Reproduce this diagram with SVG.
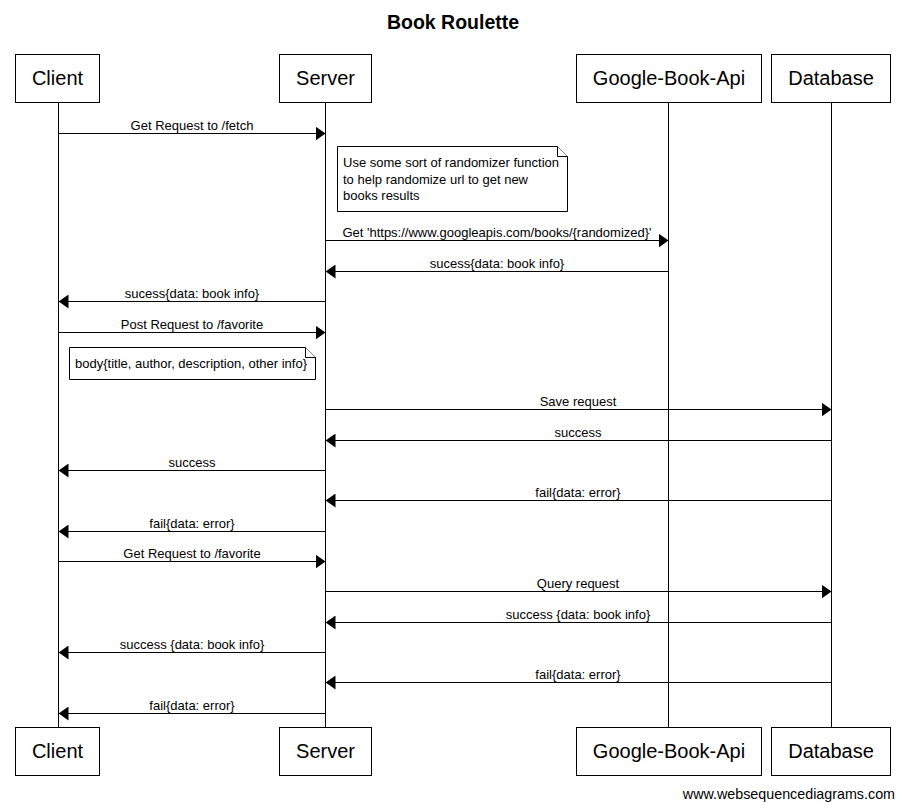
<svg xmlns="http://www.w3.org/2000/svg" width="905" height="809" viewBox="0 0 905 809">
<defs>
<marker id="ah" markerWidth="10" markerHeight="14" refX="10" refY="7" orient="auto" markerUnits="userSpaceOnUse">
<path d="M0,0 L10,7 L0,14 Z" fill="#000"/>
</marker>
<style>
.box{fill:#fff;stroke:#000;stroke-width:1}
.pt{font-family:"Liberation Sans",Arial,sans-serif;font-size:20px;text-anchor:middle;fill:#000}
.life{stroke:#000;stroke-width:1;fill:none}
.msg{stroke:#000;stroke-width:1;fill:none;marker-end:url(#ah)}
.ml{font-family:"Liberation Sans",Arial,sans-serif;font-size:13px;text-anchor:middle;fill:#000}
.nt{font-family:"Liberation Sans",Arial,sans-serif;font-size:13px;fill:#000}
.note{fill:#fff;stroke:#000;stroke-width:1}
</style>
</defs>
<rect width="905" height="809" fill="#fff"/>
<text x="453" y="29" font-family="Liberation Sans, Arial, sans-serif" font-size="19.5" font-weight="bold" text-anchor="middle">Book Roulette</text>

<g id="lifelines">
<line class="life" x1="58.5" y1="102" x2="58.5" y2="727"/>
<line class="life" x1="325.5" y1="102" x2="325.5" y2="727"/>
<line class="life" x1="668.5" y1="102" x2="668.5" y2="727"/>
<line class="life" x1="831.5" y1="102" x2="831.5" y2="727"/>
</g>

<g id="client">
<rect class="box" x="15.5" y="54.5" width="84" height="48"/>
<text class="pt" x="57.5" y="85">Client</text>
<rect class="box" x="15.5" y="727.5" width="84" height="48"/>
<text class="pt" x="57.5" y="758">Client</text>
</g>
<g id="server">
<rect class="box" x="279.5" y="54.5" width="92" height="48"/>
<text class="pt" x="325.5" y="85">Server</text>
<rect class="box" x="279.5" y="727.5" width="92" height="48"/>
<text class="pt" x="325.5" y="758">Server</text>
</g>
<g id="google">
<rect class="box" x="576.5" y="54.5" width="185" height="48"/>
<text class="pt" x="669" y="85">Google-Book-Api</text>
<rect class="box" x="576.5" y="727.5" width="185" height="48"/>
<text class="pt" x="669" y="758">Google-Book-Api</text>
</g>
<g id="database">
<rect class="box" x="771.5" y="54.5" width="119" height="48"/>
<text class="pt" x="831" y="85">Database</text>
<rect class="box" x="771.5" y="727.5" width="119" height="48"/>
<text class="pt" x="831" y="758">Database</text>
</g>

<g id="note1">
<path class="note" d="M337.5,146.5 H557.5 L567.5,156.5 V211.5 H337.5 Z"/>
<path class="note" d="M557.5,146.5 V156.5 H567.5" fill="none"/>
<text class="nt" x="343" y="167">Use some sort of randomizer function</text>
<text class="nt" x="343" y="184">to help randomize url to get new</text>
<text class="nt" x="343" y="200">books results</text>
</g>
<g id="note2">
<path class="note" d="M69.5,347.5 H305.5 L315.5,357.5 V379.5 H69.5 Z"/>
<path class="note" d="M305.5,347.5 V357.5 H315.5" fill="none"/>
<text class="nt" x="75" y="368">body{title, author, description, other info}</text>
</g>

<g id="connectors">
<line class="msg" x1="58.5" y1="133.5" x2="325.5" y2="133.5"/>
<text class="ml" x="192" y="130">Get Request to /fetch</text>

<line class="msg" x1="325.5" y1="240.5" x2="668.5" y2="240.5"/>
<text class="ml" x="497" y="237">Get 'https://www.googleapis.com/books/{randomized}'</text>

<line class="msg" x1="668.5" y1="271.5" x2="325.5" y2="271.5"/>
<text class="ml" x="497" y="268">sucess{data: book info}</text>

<line class="msg" x1="325.5" y1="301.5" x2="58.5" y2="301.5"/>
<text class="ml" x="192" y="298">sucess{data: book info}</text>

<line class="msg" x1="58.5" y1="332.5" x2="325.5" y2="332.5"/>
<text class="ml" x="192" y="329">Post Request to /favorite</text>

<line class="msg" x1="325.5" y1="409.5" x2="831.5" y2="409.5"/>
<text class="ml" x="578" y="406">Save request</text>

<line class="msg" x1="831.5" y1="440.5" x2="325.5" y2="440.5"/>
<text class="ml" x="578" y="437">success</text>

<line class="msg" x1="325.5" y1="470.5" x2="58.5" y2="470.5"/>
<text class="ml" x="192" y="467">success</text>

<line class="msg" x1="831.5" y1="500.5" x2="325.5" y2="500.5"/>
<text class="ml" x="578" y="497">fail{data: error}</text>

<line class="msg" x1="325.5" y1="531.5" x2="58.5" y2="531.5"/>
<text class="ml" x="192" y="528">fail{data: error}</text>

<line class="msg" x1="58.5" y1="561.5" x2="325.5" y2="561.5"/>
<text class="ml" x="192" y="558">Get Request to /favorite</text>

<line class="msg" x1="325.5" y1="591.5" x2="831.5" y2="591.5"/>
<text class="ml" x="578" y="588">Query request</text>

<line class="msg" x1="831.5" y1="622.5" x2="325.5" y2="622.5"/>
<text class="ml" x="578" y="619">success {data: book info}</text>

<line class="msg" x1="325.5" y1="652.5" x2="58.5" y2="652.5"/>
<text class="ml" x="192" y="649">success {data: book info}</text>

<line class="msg" x1="831.5" y1="682.5" x2="325.5" y2="682.5"/>
<text class="ml" x="578" y="679">fail{data: error}</text>

<line class="msg" x1="325.5" y1="713.5" x2="58.5" y2="713.5"/>
<text class="ml" x="192" y="710">fail{data: error}</text>
</g>

<text x="895" y="799" font-family="Liberation Sans Narrow, Liberation Sans, Arial, sans-serif" font-size="14.3" text-anchor="end" fill="#000">www.websequencediagrams.com</text>
</svg>
